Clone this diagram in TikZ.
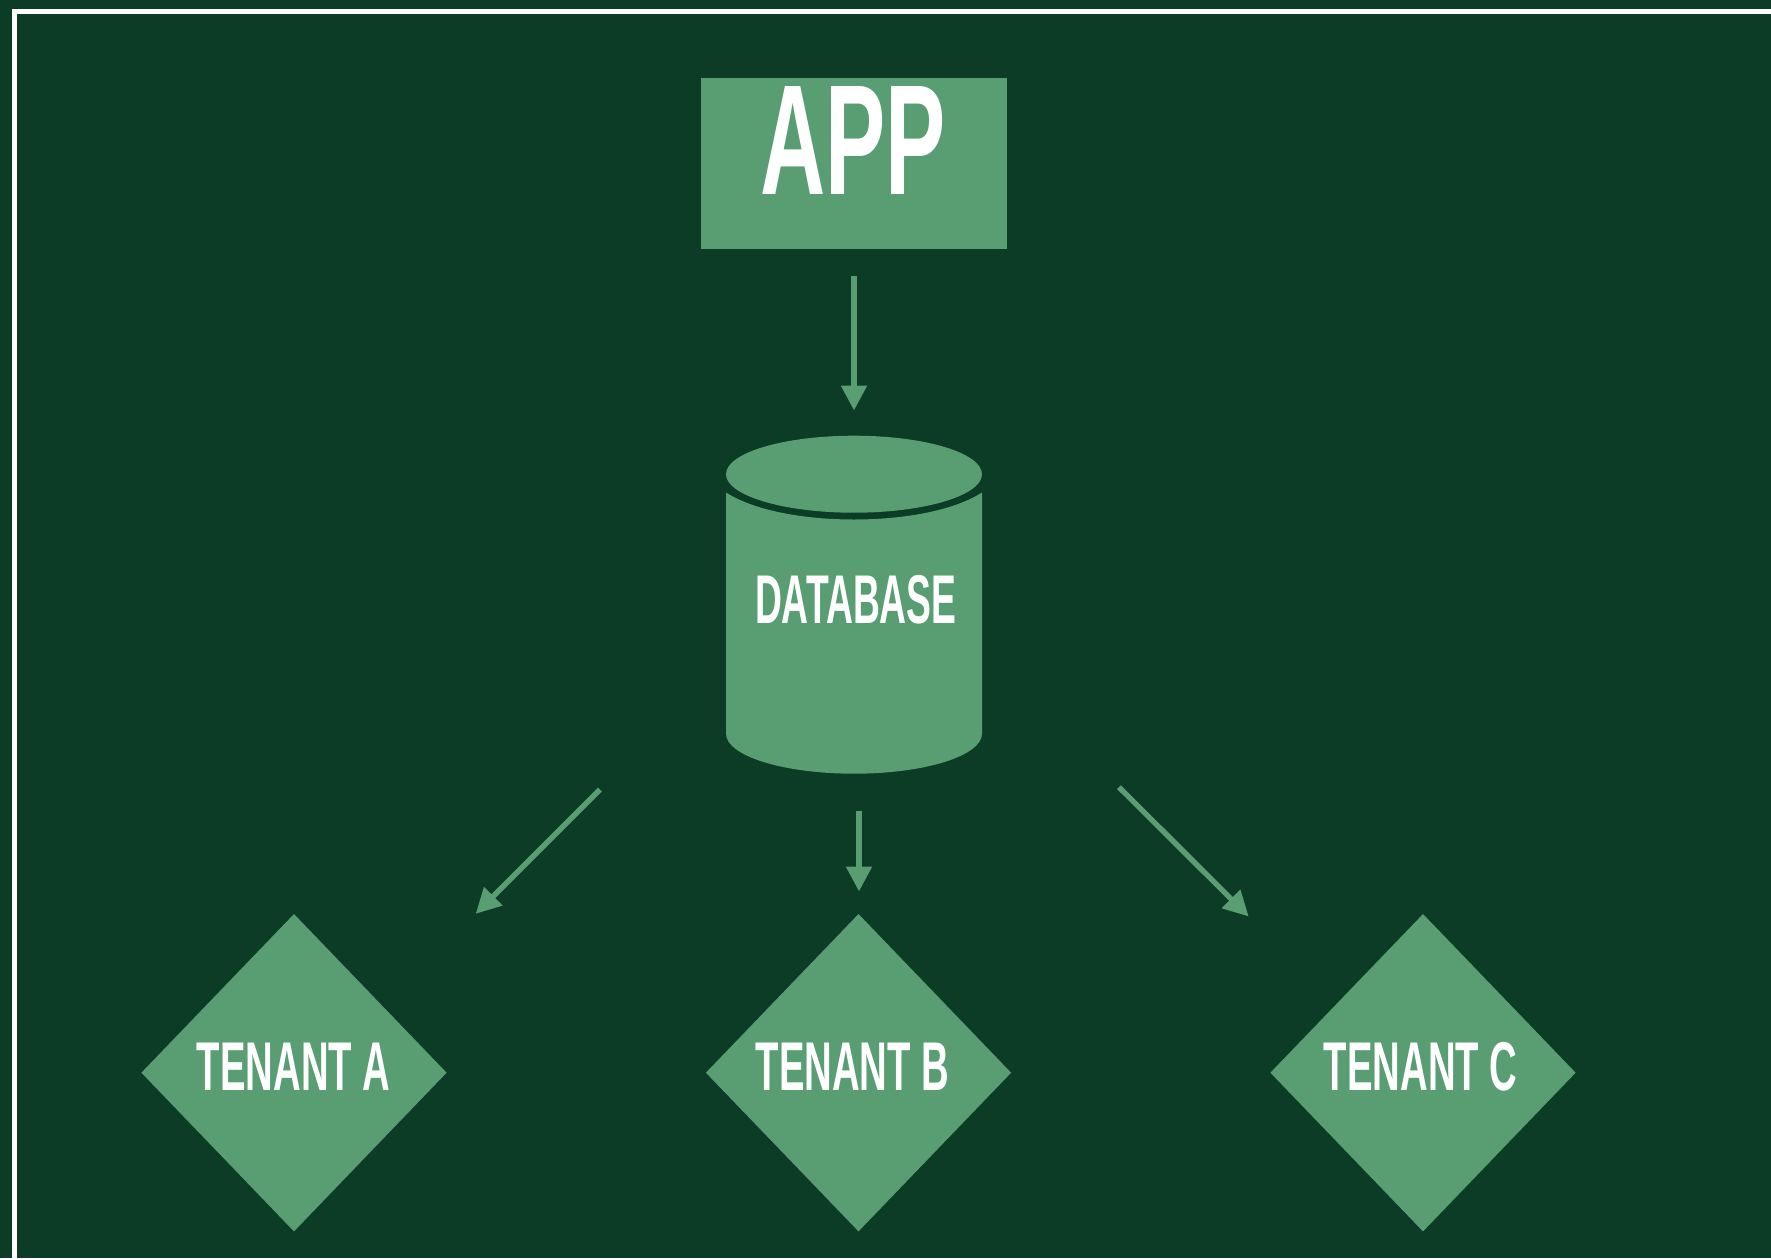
\documentclass[tikz,border=0pt]{standalone}
\usepackage{fontspec}
\setmainfont{Liberation Sans}
\newfontfamily\appfont[FakeStretch=0.575]{Liberation Sans}
\newfontfamily\dbfont[FakeStretch=0.54]{Liberation Sans}
\newfontfamily\tenfont[FakeStretch=0.555,WordSpace=0.95]{Liberation Sans}
\usetikzlibrary{shapes.geometric,arrows.meta}
\definecolor{bgdark}{RGB}{12,59,38}
\definecolor{leaf}{RGB}{88,158,114}
\tikzset{
  x=1pt,y=-1pt,
  frameline/.style={draw=white,line width=5.2pt,miter limit=10},
  block/.style={rectangle,fill=leaf,draw=none,inner sep=0pt,minimum width=306pt,minimum height=171pt},
  dbcap/.style={ellipse,fill=leaf,draw=none,inner sep=0pt,minimum width=256pt,minimum height=77pt},
  tenant/.style={diamond,fill=leaf,draw=none,inner sep=0pt,minimum width=305.4pt,minimum height=317.5pt},
  apptext/.style={text=white,inner sep=0pt,anchor=base,font=\appfont\bfseries\fontsize{157}{160}\selectfont},
  dbtext/.style={text=white,inner sep=0pt,anchor=base,font=\dbfont\bfseries\fontsize{69}{72}\selectfont},
  tentext/.style={text=white,inner sep=0pt,anchor=base,font=\tenfont\bfseries\fontsize{69}{72}\selectfont},
  conn/.style={draw=leaf,line width=5.4pt,-{Triangle[length=25pt,width=25pt,fill=leaf]}},
}
\begin{document}
\begin{tikzpicture}
\useasboundingbox (0,0) rectangle (1771,1258);
\fill[bgdark] (0,0) rectangle (1771,1258);
\path[frameline] (14.6,1258) -- (14.6,11.5) -- (1771,11.5);

\node[block] (app) at (854,163.5) {};
\node[apptext] (applabel) at (853,194.3) {APP};

\fill[leaf] (726,492.5) .. controls (755,511) and (805,519.5) .. (854,519.5)
  .. controls (903,519.5) and (953,511) .. (982,492.5)
  -- (982,733.7) .. controls (982,755.7) and (925,773.7) .. (854,773.7)
  .. controls (783,773.7) and (726,755.7) .. (726,733.7) -- cycle;
\node[dbcap] (dbtop) at (854,474.2) {};
\node[dbtext] (dblabel) at (855.8,623.5) {DATABASE};

\node[tenant] (ta) at (294,1072.7) {};
\node[tenant] (tb) at (858.5,1072.7) {};
\node[tenant] (tc) at (1423,1072.7) {};
\node[tentext] (talabel) at (293.3,1090.3) {TENANT A};
\node[tentext] (tblabel) at (852.2,1090.3) {TENANT B};
\node[tentext] (tclabel) at (1420.4,1090.3) {TENANT C};

\coordinate (s1) at (854,275.5);
\coordinate (e1) at (854,410.5);
\coordinate (s2) at (600,789.5);
\coordinate (e2) at (475.7,913.8);
\coordinate (s3) at (859,810.5);
\coordinate (e3) at (859,891.5);
\coordinate (s4) at (1119,787.2);
\coordinate (e4) at (1248.7,916.5);
\draw[conn] (s1) -- (e1);
\draw[conn] (s2) -- (e2);
\draw[conn] (s3) -- (e3);
\draw[conn] (s4) -- (e4);
\end{tikzpicture}
\end{document}
